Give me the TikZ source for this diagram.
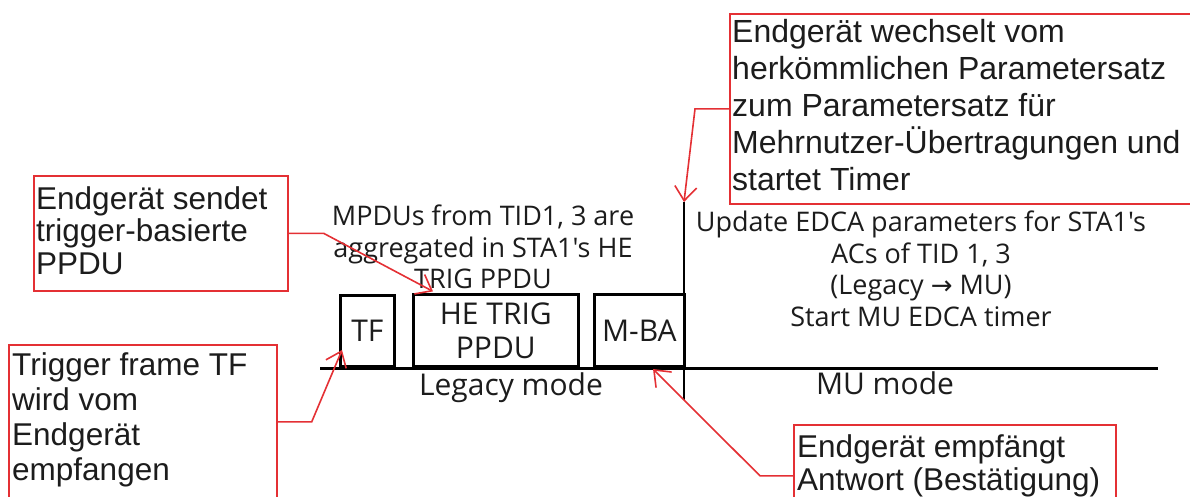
\documentclass[tikz,border=0pt]{standalone}
\usepackage{fontspec}
\setmainfont{Liberation Sans}
\newfontfamily\lblfont{Open Sans}
\newfontfamily\symfont{DejaVu Sans}
\usetikzlibrary{arrows.meta}
\definecolor{annred}{RGB}{228,48,52}
\definecolor{ink}{RGB}{28,28,28}
\begin{document}
\begin{tikzpicture}[x=1pt,y=-1pt,
  redbox/.style={draw=annred, line width=1.7pt, inner sep=0pt, anchor=north west},
  redtext/.style={text=ink, align=left, inner sep=0pt, anchor=north west},
  callout/.style={draw=annred, line width=1.6pt, -{Straight Barb[length=14pt,width=22pt]}},
  framebox/.style={draw=black, line width=2.6pt, inner sep=0pt, anchor=south west, text=ink,
    align=center, font=\lblfont\fontsize{30}{34}\selectfont},
  lbl/.style={font=\lblfont\fontsize{27}{31.5}\selectfont, text=ink, align=center, inner sep=0pt},
  modelbl/.style={font=\lblfont\fontsize{30}{34}\selectfont, text=ink, inner sep=0pt, anchor=base}
]
\useasboundingbox (0,0) rectangle (1190,497);
\clip (0,0) rectangle (1190,497);

% timeline and mode switch line
\coordinate (tl0) at (320,368);
\coordinate (tl1) at (1158,368);
\coordinate (vtop) at (684,202);
\coordinate (vbot) at (684,400);
\draw[line width=3pt, black] (tl0) -- (tl1);
\draw[line width=2.6pt, black] (vtop) -- (vbot);

% frames
\node[framebox, minimum width=54pt, minimum height=71pt] (tf) at (339,368) {TF};
\node[framebox, minimum width=165pt, minimum height=72pt] (he) at (412,368) {HE TRIG\\PPDU};
\node[framebox, minimum width=90pt, minimum height=72pt] (mba) at (593,368) {M-BA};

% black labels
\node[lbl, anchor=north] (mpdu) at (483,205) {MPDUs from TID1, 3 are\\aggregated in STA1's HE\\TRIG PPDU};
\node[lbl, anchor=north] (upd) at (921,211) {Update EDCA parameters for STA1's\\ACs of TID 1, 3\\(Legacy {\symfont\fontsize{26}{31.5}\selectfont →} MU)\\Start MU EDCA timer};
\node[modelbl] (legacy) at (511,395) {Legacy mode};
\node[modelbl] (mu) at (885,394) {MU mode};

% red annotation boxes
\node[redbox, minimum width=254pt, minimum height=115pt] (b1) at (33,175) {};
\node[redtext, font=\fontsize{31.5}{32.5}\selectfont] (t1) at (36,186) {Endgerät sendet\\trigger-basierte\\PPDU};

\node[redbox, minimum width=268pt, minimum height=154pt] (b2) at (8,344) {};
\node[redtext, font=\fontsize{31.5}{35}\selectfont] (t2) at (12,352) {Trigger frame TF\\wird vom\\Endgerät\\empfangen};

\node[redbox, minimum width=470pt, minimum height=190pt] (b3) at (729,13) {};
\node[redtext, font=\fontsize{32}{37}\selectfont] (t3) at (732,19) {Endgerät wechselt vom\\herkömmlichen Parametersatz\\zum Parametersatz für\\Mehrnutzer-Übertragungen und\\startet Timer};

\node[redbox, minimum width=322pt, minimum height=102pt] (b4) at (793,424) {};
\node[redtext, font=\fontsize{31.5}{33}\selectfont] (t4) at (797,434) {Endgerät empfängt\\Antwort (Bestätigung)};

% arrow tips
\coordinate (tipHE) at ([xshift=21pt,yshift=2pt]he.north west);
\coordinate (tipTF) at ([xshift=3pt,yshift=18pt]tf.south west);
\coordinate (tipMBA) at ([xshift=60pt,yshift=-1pt]mba.south west);

% callouts
\draw[callout] (b1.east) -- ++(35,0) -- (tipHE);
\draw[callout] (b2.east) -- ++(34,0) -- (tipTF);
\draw[callout] (b3.west) -- ++(-34,0) -- (vtop);
\draw[callout] (b4.west) -- ++(-33,0) -- (tipMBA);
\end{tikzpicture}
\end{document}
